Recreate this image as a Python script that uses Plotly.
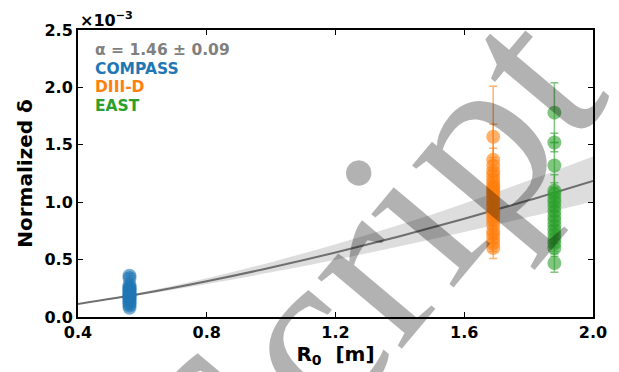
import plotly.graph_objects as go

# ---------------- data (values in units of 1e-3) ----------------
compass_x = [0.56] * 19
compass_y = [0.08, 0.10, 0.12, 0.13, 0.15, 0.16, 0.17, 0.18, 0.19, 0.20,
             0.21, 0.22, 0.23, 0.24, 0.25, 0.26, 0.28, 0.34, 0.36]
compass_err = [0.02] * 19

diiid_x = [1.69] * 26
diiid_y = [1.57, 1.37, 1.32, 1.27, 1.24, 1.20, 1.17, 1.14, 1.12, 1.10,
           1.08, 1.06, 1.03, 1.00, 0.98, 0.95, 0.92, 0.90, 0.87, 0.84,
           0.80, 0.75, 0.72, 0.68, 0.64, 0.60]
diiid_err = [0.44, 0.31, 0.15, 0.12, 0.12, 0.10, 0.10, 0.10, 0.10, 0.08,
             0.08, 0.08, 0.08, 0.08, 0.07, 0.07, 0.07, 0.07, 0.07, 0.07,
             0.07, 0.07, 0.07, 0.07, 0.07, 0.09]

east_x = [1.88] * 18
east_y = [1.78, 1.52, 1.32, 1.10, 1.07, 1.03, 1.00, 0.96, 0.92, 0.88,
          0.84, 0.80, 0.76, 0.72, 0.68, 0.64, 0.60, 0.47]
east_err = [0.26, 0.08, 0.20, 0.14, 0.10, 0.10, 0.08, 0.08, 0.08, 0.08,
            0.07, 0.07, 0.07, 0.07, 0.07, 0.07, 0.07, 0.08]

# power-law fit curve and its uncertainty band
fit_x = [0.40, 0.60, 0.80, 1.00, 1.20, 1.40, 1.60, 1.80, 2.00]
fit_y = [0.113, 0.204, 0.311, 0.431, 0.562, 0.704, 0.856, 1.017, 1.186]
band_hi = [0.115, 0.216, 0.338, 0.478, 0.633, 0.803, 0.989, 1.188, 1.398]
band_lo = [0.111, 0.193, 0.287, 0.389, 0.499, 0.617, 0.741, 0.871, 1.006]

x_ticks = [0.4, 0.8, 1.2, 1.6, 2.0]
x_ticklabels = ["0.4", "0.8", "1.2", "1.6", "2.0"]
y_ticks = [0.0, 0.5, 1.0, 1.5, 2.0, 2.5]
y_ticklabels = ["0.0", "0.5", "1.0", "1.5", "2.0", "2.5"]

legend_labels = ["\u03b1 = 1.46 \u00b1 0.09", "COMPASS", "DIII-D", "EAST"]
legend_colors = ["#808080", "#1f77b4", "#ff7f0e", "#2ca02c"]

FONT = "DejaVu Sans"

fig = go.Figure()

# band
fig.add_trace(go.Scatter(x=fit_x, y=band_lo, mode="lines", line=dict(width=0, shape="spline"),
                         hoverinfo="skip", showlegend=False))
fig.add_trace(go.Scatter(x=fit_x, y=band_hi, mode="lines", line=dict(width=0, shape="spline"),
                         fill="tonexty", fillcolor="rgba(128,128,128,0.27)",
                         hoverinfo="skip", showlegend=False))
# fit line
fig.add_trace(go.Scatter(x=fit_x, y=fit_y, mode="lines",
                         line=dict(color="rgba(90,90,90,0.85)", width=2, shape="spline"),
                         showlegend=False))

def add_series(xs, ys, errs, rgb):
    fig.add_trace(go.Scatter(
        x=xs, y=ys, mode="markers",
        marker=dict(size=14, color="rgba(%d,%d,%d,0.6)" % rgb, line=dict(width=0)),
        error_y=dict(type="data", array=errs, visible=True,
                     color="rgba(%d,%d,%d,0.6)" % rgb, thickness=1.5, width=4),
        showlegend=False))

add_series(compass_x, compass_y, compass_err, (31, 119, 180))
add_series(diiid_x, diiid_y, diiid_err, (255, 127, 14))
add_series(east_x, east_y, east_err, (44, 160, 44))

annotations = []
for i, (txt, col) in enumerate(zip(legend_labels, legend_colors)):
    annotations.append(dict(xref="paper", yref="paper", x=0.029, y=0.930 - i * 0.065,
                            xanchor="left", yanchor="middle", showarrow=False,
                            text="<b>%s</b>" % txt,
                            font=dict(family=FONT, size=15.5, color=col)))
# offset (multiplier) text
annotations.append(dict(xref="paper", yref="paper", x=0.0, y=1.0, xanchor="left", yanchor="bottom",
                        showarrow=False, text="<b>\u00d710<sup>\u22123</sup></b>",
                        font=dict(family=FONT, size=16, color="black"), yshift=-2))
# watermark
annotations.append(dict(xref="paper", yref="paper", x=0.560, y=0.182, xanchor="center",
                        yanchor="middle", showarrow=False, text="Script", textangle=-50,
                        font=dict(family="Liberation Serif", size=240, color="rgba(0,0,0,0.3)")))

axis_common = dict(showline=True, linecolor="black", linewidth=2, mirror="ticks",
                   ticks="inside", ticklen=5, tickwidth=1, tickcolor="black",
                   showgrid=False, zeroline=False,
                   tickfont=dict(family=FONT, size=16, color="black"))

# page body has an 8px margin (top/left), so the figure is sized/offset to compensate
fig.update_layout(
    width=611, height=364,
    margin=dict(l=70, r=21, t=22, b=55),
    paper_bgcolor="white", plot_bgcolor="white",
    xaxis=dict(range=[0.4, 2.0], tickvals=x_ticks, ticktext=["<b>%s</b>" % t for t in x_ticklabels],
               title=dict(text="<b>R<sub>0</sub>  [m]</b>", font=dict(family=FONT, size=20, color="black"),
                          standoff=4),
               **axis_common),
    yaxis=dict(range=[0.0, 2.5], tickvals=y_ticks, ticktext=["<b>%s</b>" % t for t in y_ticklabels],
               title=dict(text="<b>Normalized \u03b4</b>", font=dict(family=FONT, size=20, color="black"),
                          standoff=6),
               **axis_common),
    annotations=annotations,
    showlegend=False,
)

fig.write_html("out.html")
